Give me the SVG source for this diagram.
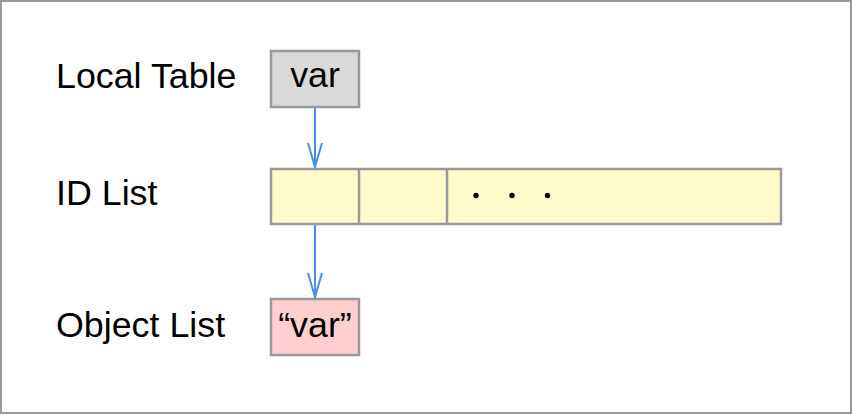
<svg xmlns="http://www.w3.org/2000/svg" width="852" height="414" viewBox="0 0 852 414">
<style>
text{font-family:"Liberation Sans",Arial,sans-serif;font-size:35.8px;fill:#000}
.box{stroke:#999;stroke-width:2.5}
.conn{stroke:#4a8ee2;stroke-width:2;fill:none}
</style>
<defs>
<marker id="arr" markerUnits="userSpaceOnUse" markerWidth="30" markerHeight="20" viewBox="-26 -10 30 20" refX="0" refY="0" orient="auto">
<path d="M-24,-7 L0,0 L-24,7" fill="none" stroke="#4a8ee2" stroke-width="2"/>
</marker>
</defs>
<rect x="1" y="1" width="850" height="412" fill="#fff" stroke="#999" stroke-width="2"/>
<g id="label-local"><text x="56" y="88">Local Table</text></g>
<g id="label-id"><text x="56" y="205">ID List</text></g>
<g id="label-obj"><text x="56" y="337">Object List</text></g>
<g id="local-var">
<rect class="box" x="271" y="51" width="88" height="56" fill="#d9d9d9"/>
<text x="315" y="87" text-anchor="middle">var</text>
</g>
<g id="id-list">
<rect class="box" x="271" y="169" width="510" height="55" fill="#fff9cc"/>
<line class="box" x1="359" y1="169" x2="359" y2="224"/>
<line class="box" x1="447" y1="169" x2="447" y2="224"/>
<circle cx="476" cy="195.5" r="2.7" fill="#000"/>
<circle cx="512" cy="195.5" r="2.7" fill="#000"/>
<circle cx="547.5" cy="195.5" r="2.7" fill="#000"/>
</g>
<g id="obj-var">
<rect class="box" x="271" y="299" width="88" height="56" fill="#ffcfcf"/>
<text x="315" y="337" text-anchor="middle">“var”</text>
</g>
<g id="connectors">
<line class="conn" x1="315" y1="108" x2="315" y2="167" marker-end="url(#arr)"/>
<line class="conn" x1="315" y1="225" x2="315" y2="297" marker-end="url(#arr)"/>
</g>
</svg>
